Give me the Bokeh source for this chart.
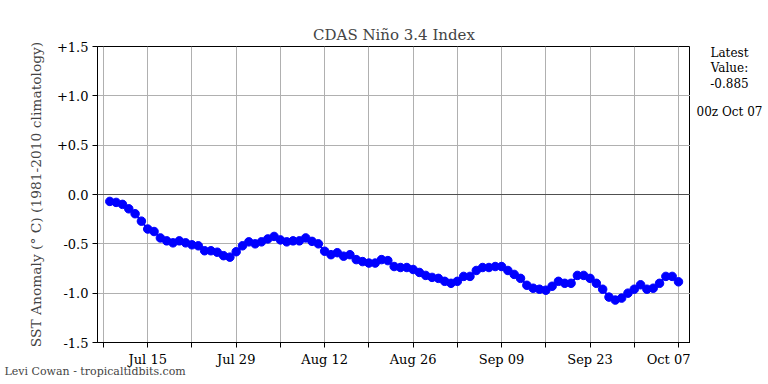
import pandas as pd
from bokeh.plotting import figure
from bokeh.layouts import row
from bokeh.models import FixedTicker, Span, Label, Title, Range1d
from bokeh.embed import file_html
from bokeh.resources import INLINE

FONT = "'DejaVu Serif', serif"

start_date = "2020-07-09"
anomaly = [
    -0.07, -0.08, -0.10, -0.145, -0.195, -0.27, -0.35, -0.375, -0.44, -0.47,
    -0.49, -0.47, -0.49, -0.51, -0.52, -0.57, -0.57, -0.585, -0.62, -0.635,
    -0.58, -0.52, -0.48, -0.50, -0.48, -0.45, -0.425, -0.46, -0.48, -0.47,
    -0.47, -0.44, -0.475, -0.50, -0.575, -0.61, -0.59, -0.625, -0.61, -0.66,
    -0.68, -0.695, -0.695, -0.66, -0.67,
    -0.73, -0.74, -0.74, -0.76, -0.79, -0.82, -0.84, -0.85, -0.88, -0.90,
    -0.88, -0.83, -0.83, -0.77, -0.74, -0.74, -0.73, -0.73, -0.77, -0.81,
    -0.85, -0.92, -0.95, -0.96, -0.97, -0.93, -0.88, -0.90, -0.90, -0.82,
    -0.82, -0.85, -0.90, -0.96, -1.04, -1.07, -1.05, -1.00, -0.96, -0.915,
    -0.96, -0.95, -0.90, -0.83, -0.83, -0.885,
]
x_tick_dates = pd.date_range("2020-07-08", "2020-10-07", freq="7D")
x_tick_labels = ["", "Jul 15", "", "Jul 29", "", "Aug 12", "", "Aug 26", "",
                 "Sep 09", "", "Sep 23", "", "Oct 07"]
y_ticks = [-1.5, -1.0, -0.5, 0.0, 0.5, 1.0, 1.5]
y_tick_labels = ["-1.5", "-1.0", "-0.5", "0.0", "+0.5", "+1.0", "+1.5"]
side_lines = ["Latest", "Value:", "-0.885", "00z Oct 07"]
side_line_y = [1.439, 1.287, 1.135, 0.841]
credit = "Levi Cowan - tropicaltidbits.com"

origin = pd.Timestamp("2020-07-01")
dates = pd.date_range(start_date, periods=len(anomaly), freq="D")
xs = [(d - origin).days for d in dates]
tick_x = [(d - origin).days for d in x_tick_dates]

p = figure(width=690, height=384, output_backend="svg", toolbar_location=None,
           x_range=(6.05, 99.9), y_range=Range1d(-1.5, 1.5),
           min_border_left=97, min_border_right=0, min_border_top=46,
           min_border_bottom=42, title="CDAS Niño 3.4 Index")
p.title.align = "center"
p.title.text_font = FONT
p.title.text_font_style = "normal"
p.title.text_font_size = "15px"
p.title.standoff = 6

p.outline_line_color = "black"
p.outline_line_width = 1
p.outline_line_alpha = 1

p.xaxis.ticker = FixedTicker(ticks=tick_x)
p.xaxis.major_label_overrides = {t: l for t, l in zip(tick_x, x_tick_labels)}
p.yaxis.ticker = FixedTicker(ticks=y_ticks)
p.yaxis.major_label_overrides = {t: l for t, l in zip(y_ticks, y_tick_labels)}
p.yaxis.axis_label = "SST Anomaly (° C) (1981-2010 climatology)"
p.yaxis.axis_label_text_font = FONT
p.yaxis.axis_label_text_font_style = "normal"
p.yaxis.axis_label_text_font_size = "13.8px"
p.yaxis.axis_label_standoff = 10
for ax in (p.xaxis[0], p.yaxis[0]):
    ax.major_label_text_font = FONT
    ax.major_label_text_font_size = "13px"
    ax.major_label_text_color = "black"
    ax.axis_line_color = "black"
    ax.major_tick_line_color = "black"
    ax.major_tick_out = 5
    ax.major_tick_in = 0
    ax.minor_tick_line_color = None
    ax.major_label_standoff = 4

p.xgrid.grid_line_color = "#b0b0b0"
p.ygrid.grid_line_color = "#b0b0b0"
p.xgrid.grid_line_width = 1
p.ygrid.grid_line_width = 1

p.add_layout(Span(location=0, dimension="width", line_color="#505050", line_width=1.2))

p.line(xs, anomaly, line_color="blue", line_width=2)
p.scatter(xs, anomaly, size=8.5, fill_color="blue", line_color="blue")

p.add_layout(Title(text=credit, align="left", offset=-93, standoff=-16,
                   text_font=FONT, text_font_size="11px",
                   text_font_style="normal"), "below")

# side panel with the latest value (frame is aligned with the main plot's frame)
s = figure(width=78, height=384, output_backend="svg", toolbar_location=None,
           x_range=Range1d(0, 78), y_range=p.y_range,
           x_axis_type=None, y_axis_type=None,
           min_border_left=0, min_border_right=0, min_border_top=0,
           min_border_bottom=0)
s.outline_line_color = None
s.xgrid.visible = False
s.ygrid.visible = False
for txt, yy in zip(side_lines, side_line_y):
    s.add_layout(Label(x=39, y=yy, text=txt, text_font=FONT, text_font_size="12px",
                       text_align="center", text_baseline="middle",
                       text_color="black"))

layout = row(p, s, spacing=0)
open("out.html", "w").write(file_html(layout, INLINE))
